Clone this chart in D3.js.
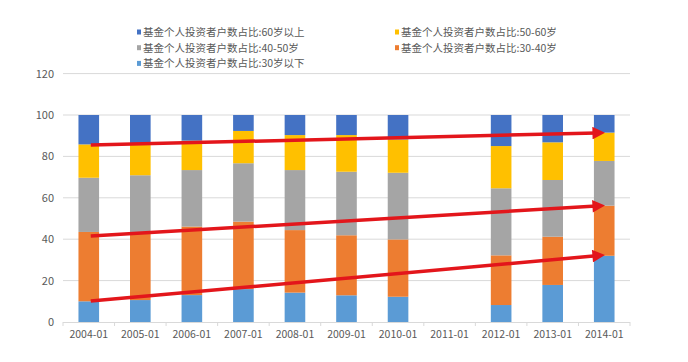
<!DOCTYPE html>
<html>
<head>
<meta charset="utf-8">
<script src="https://cdn.jsdelivr.net/npm/d3@7"></script>
<style>
  body { margin: 0; background: #fff; }
  svg text { font-family: "Noto Sans CJK SC", "Liberation Sans", sans-serif; fill: #595959; }
</style>
</head>
<body>
<svg id="chart" width="688" height="362"></svg>
<script>
// categories and series (percent of individual fund investor accounts)
var months = ['2004-01', '2005-01', '2006-01', '2007-01', '2008-01', '2009-01',
              '2010-01', '2011-01', '2012-01', '2013-01', '2014-01'];
var under30 = [10.0, 10.6, 13.0, 15.9, 14.2, 12.9, 12.2, null, 8.2, 17.9, 32.0];
var age30to40 = [33.5, 32.6, 33.1, 32.6, 30.2, 29.0, 27.7, null, 24.0, 23.3, 24.2];
var age40to50 = [26.2, 27.7, 27.3, 28.2, 29.0, 30.7, 32.2, null, 32.4, 27.4, 21.6];
var age50to60 = [16.1, 15.4, 14.2, 15.6, 16.9, 17.7, 16.1, null, 20.4, 18.2, 13.7];
var over60 = [14.2, 13.7, 12.4, 7.7, 9.7, 9.7, 11.8, null, 15.0, 13.2, 8.5];
var yTicks = [0, 20, 40, 60, 80, 100, 120];

// red trend arrows drawn on top: [start value at 2004, end value at 2014]
var arrowTop = [85.5, 91.3];
var arrowMid = [41.5, 56.0];
var arrowLow = [10.1, 32.0];

var seriesNames = {
  under30: '基金个人投资者户数占比:30岁以下',
  a3040: '基金个人投资者户数占比:30-40岁',
  a4050: '基金个人投资者户数占比:40-50岁',
  a5060: '基金个人投资者户数占比:50-60岁',
  over60: '基金个人投资者户数占比:60岁以上'
};
var keys = ['under30', 'a3040', 'a4050', 'a5060', 'over60'];
var colors = {
  under30: '#5b9bd5', a3040: '#ed7d31', a4050: '#a5a5a5',
  a5060: '#ffc000', over60: '#4472c4'
};

var rows = months.map(function(m, i) {
  return {
    month: m, has: under30[i] !== null,
    under30: under30[i] || 0, a3040: age30to40[i] || 0, a4050: age40to50[i] || 0,
    a5060: age50to60[i] || 0, over60: over60[i] || 0
  };
});

var svg = d3.select('#chart');
var x = d3.scaleBand().domain(months).range([63, 630]).paddingInner(0.6).paddingOuter(0.3);
var y = d3.scaleLinear().domain([0, 120]).range([322, 73.6]);

// gridlines
svg.append('g').selectAll('line')
    .data(yTicks.filter(function(t) { return t > 0; }))
  .enter().append('line')
    .attr('x1', 63).attr('x2', 630)
    .attr('y1', function(d) { return y(d); })
    .attr('y2', function(d) { return y(d); })
    .attr('stroke', '#d9d9d9').attr('stroke-width', 1);

// y labels
svg.append('g').selectAll('text')
    .data(yTicks)
  .enter().append('text')
    .attr('x', 54)
    .attr('y', function(d) { return y(d) + 4; })
    .attr('text-anchor', 'end')
    .attr('font-size', 11)
    .text(function(d) { return d; });

// stacked bars
var stacked = d3.stack().keys(keys)(rows);
svg.append('g').selectAll('g')
    .data(stacked)
  .enter().append('g')
    .attr('fill', function(s) { return colors[s.key]; })
  .selectAll('rect')
    .data(function(s) { return s.filter(function(d) { return d.data.has; }); })
  .enter().append('rect')
    .attr('x', function(d) { return x(d.data.month); })
    .attr('width', x.bandwidth())
    .attr('y', function(d) { return y(d[1]); })
    .attr('height', function(d) { return y(d[0]) - y(d[1]); });

// x axis
var xAxis = svg.append('g');
xAxis.append('line')
    .attr('x1', 63).attr('x2', 630).attr('y1', 322.5).attr('y2', 322.5)
    .attr('stroke', '#d9d9d9');
var step = x.step();
xAxis.selectAll('line.tick')
    .data(d3.range(months.length + 1))
  .enter().append('line')
    .attr('class', 'tick')
    .attr('x1', function(i) { return 63 + i * step; })
    .attr('x2', function(i) { return 63 + i * step; })
    .attr('y1', 322).attr('y2', 326)
    .attr('stroke', '#d9d9d9');
xAxis.selectAll('text')
    .data(months)
  .enter().append('text')
    .attr('x', function(d) { return x(d) + x.bandwidth() / 2; })
    .attr('y', 338)
    .attr('text-anchor', 'middle')
    .attr('font-size', 10.5)
    .text(function(d) { return d; });

// legend
var legendItems = [
  {key: 'over60', col: 0, row: 0}, {key: 'a5060', col: 1, row: 0},
  {key: 'a4050', col: 0, row: 1}, {key: 'a3040', col: 1, row: 1},
  {key: 'under30', col: 0, row: 2}
];
var legend = svg.append('g').selectAll('g')
    .data(legendItems)
  .enter().append('g')
    .attr('transform', function(d) {
      return 'translate(' + (137 + d.col * 258) + ',' + (32 + d.row * 15.7) + ')';
    });
legend.append('rect')
    .attr('x', 0).attr('y', -2.5).attr('width', 4).attr('height', 5)
    .attr('fill', function(d) { return colors[d.key]; });
legend.append('text')
    .attr('x', 6).attr('y', 4)
    .attr('font-size', 10.5)
    .text(function(d) { return seriesNames[d.key]; });

// red arrows
svg.append('defs').append('marker')
    .attr('id', 'head')
    .attr('viewBox', '0 0 10 10')
    .attr('refX', 3).attr('refY', 5)
    .attr('markerWidth', 4.2).attr('markerHeight', 3.6)
    .attr('markerUnits', 'strokeWidth')
    .attr('orient', 'auto')
  .append('path')
    .attr('d', 'M0,0 L10,5 L0,10 Z')
    .attr('fill', '#e3161b');

var x0 = x('2004-01') + x.bandwidth() / 2 + 2;
var x1 = x('2014-01') + x.bandwidth() / 2 - 8;
svg.append('g').selectAll('line')
    .data([arrowTop, arrowMid, arrowLow])
  .enter().append('line')
    .attr('x1', x0).attr('x2', x1)
    .attr('y1', function(d) { return y(d[0]); })
    .attr('y2', function(d) { return y(d[1]); })
    .attr('stroke', '#e3161b').attr('stroke-width', 3.5)
    .attr('marker-end', 'url(#head)');
</script>
</body>
</html>
